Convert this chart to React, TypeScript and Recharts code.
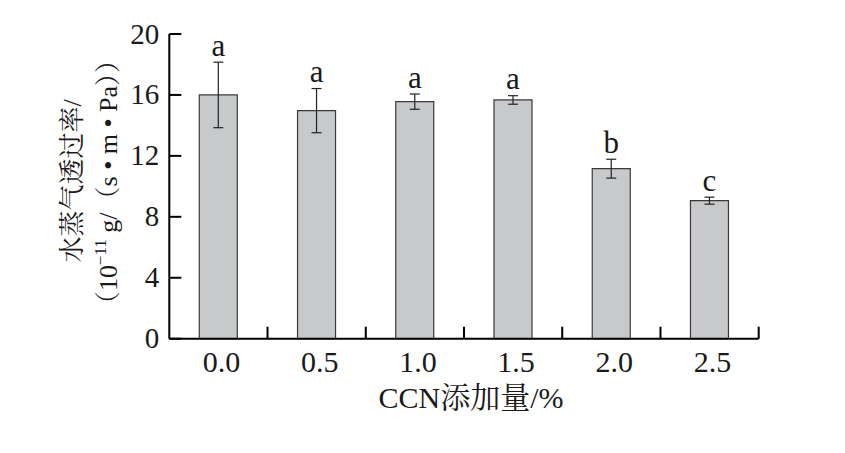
import React from 'react';
import { BarChart, Bar, XAxis, YAxis, ErrorBar, LabelList } from 'recharts';

const categories = ['0.0', '0.5', '1.0', '1.5', '2.0', '2.5'];
const means = [16.0, 14.97, 15.56, 15.67, 11.16, 9.06];
const errors = [2.15, 1.45, 0.5, 0.28, 0.62, 0.23];
const letters = ['a', 'a', 'a', 'a', 'b', 'c'];
const yTicks = [0, 4, 8, 12, 16, 20];

const data = categories.map((c, i) => ({ cat: c, mean: means[i], err: errors[i], letter: letters[i] }));

const FONT = "'Liberation Serif', 'Times New Roman', 'Noto Serif CJK SC', 'Noto Sans CJK SC', serif";
const TICK_LEN = 12;
const INK = '#1a1a1a';

const XTick = (props: any) => {
  const { x, y, payload, index, visibleTicksCount } = props;
  const half = payload && typeof payload.offset === 'number' && payload.offset > 0 ? payload.offset : 49.1;
  const count = visibleTicksCount ?? categories.length;
  return (
    <g>
      {index > 0 && (
        <line x1={x - half} x2={x - half} y1={y} y2={y - TICK_LEN} stroke="#000" strokeWidth={2} />
      )}
      {index === count - 1 && (
        <line x1={x + half} x2={x + half} y1={y} y2={y - TICK_LEN} stroke="#000" strokeWidth={2} />
      )}
      <text x={x + 3} y={y + 33} textAnchor="middle" fontSize={30} fontFamily={FONT} fill={INK}>
        {payload.value}
      </text>
    </g>
  );
};

const YTick = (props: any) => {
  const { x, y, payload } = props;
  return (
    <g>
      <line x1={x} x2={x + TICK_LEN} y1={y} y2={y} stroke="#000" strokeWidth={2} />
      <text x={x - 10} y={y + 9.5} textAnchor="end" fontSize={29} fontFamily={FONT} fill={INK}>
        {payload.value}
      </text>
    </g>
  );
};

const LetterLabel = (props: any) => {
  const { x, y, width, height, index } = props;
  const d = data[index];
  if (!d) return null;
  const pxPerUnit = height / d.mean;
  const errTop = y - d.err * pxPerUnit;
  return (
    <text x={x + width / 2} y={errTop - 6.5} textAnchor="middle" fontSize={31} fontFamily={FONT} fill={INK}>
      {d.letter}
    </text>
  );
};

const YLabel = () => (
  <g fontFamily={FONT}>
    <text x={73} y={173} transform="rotate(-90, 73, 173)" textAnchor="middle" fontSize={26} fill={INK}>
      水蒸气透过率/
    </text>
    <text x={109} y={174} transform="rotate(-90, 109, 174)" textAnchor="middle" fontSize={26} fill={INK}>
      （10
      <tspan fontSize={17} dy={-11} fill={INK}>−11</tspan>
      <tspan dy={11} fill={INK}> g/（s • m • Pa））</tspan>
    </text>
  </g>
);

export default function App() {
  return (
    <div style={{ width: 837, height: 445, background: '#fff' }}>
      <BarChart
        width={837}
        height={445}
        data={data}
        margin={{ top: 26, right: 86.3, bottom: 54.3, left: 0 }}
        barCategoryGap={0}
      >
        <XAxis
          dataKey="cat"
          height={60}
          tickLine={false}
          tickSize={0}
          tickMargin={0}
          axisLine={{ stroke: '#000', strokeWidth: 2 }}
          tick={<XTick />}
          interval={0}
          label={{
            value: 'CCN添加量/%',
            position: 'insideBottom',
            content: () => (
              <text x={463} y={400} textAnchor="middle" fontSize={30} fontFamily={FONT} fill={INK}>
                CCN添加量/%
              </text>
            ),
          }}
        />
        <YAxis
          width={161.3}
          domain={[0, 20]}
          ticks={yTicks}
          interval={0}
          tickLine={false}
          tickSize={0}
          tickMargin={0}
          axisLine={{ stroke: '#000', strokeWidth: 2 }}
          tick={<YTick />}
          label={{ value: '', content: () => <YLabel /> }}
        />
        <Bar dataKey="mean" fill="#c8c9cb" stroke="#3a3a3a" strokeWidth={1.2} barSize={38} isAnimationActive={false}>
          <ErrorBar dataKey="err" width={5} stroke="#222" strokeWidth={1.2} direction="y" isAnimationActive={false} />
          <LabelList dataKey="letter" content={<LetterLabel />} />
        </Bar>
      </BarChart>
    </div>
  );
}
